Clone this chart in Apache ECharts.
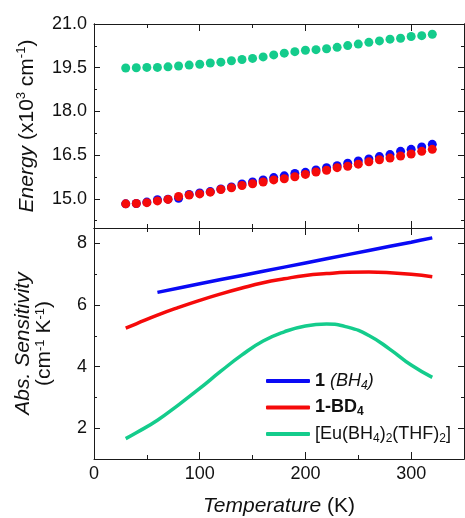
<!DOCTYPE html>
<html>
<head>
<meta charset="utf-8">
<script src="https://cdn.jsdelivr.net/npm/echarts@6/dist/echarts.min.js"></script>
<style>
  html, body { margin: 0; padding: 0; background: #fff; }
  #chart { width: 465px; height: 518px; }
</style>
</head>
<body>
<div id="chart"></div>
<script>
// top panel: emission energy vs temperature (x10^3 cm^-1)
const energyTemps = [30, 40, 50, 60, 70, 80, 90, 100, 110, 120, 130, 140, 150, 160, 170,
  180, 190, 200, 210, 220, 230, 240, 250, 260, 270, 280, 290, 300, 310, 320]
const energyBH4 = [14.83, 14.84, 14.89, 14.97, 14.99, 15.02, 15.15, 15.20, 15.25, 15.34,
  15.41, 15.51, 15.58, 15.65, 15.73, 15.79, 15.87, 15.91, 15.99, 16.07,
  16.14, 16.22, 16.30, 16.37, 16.45, 16.52, 16.63, 16.70, 16.78, 16.87]
const energyBD4 = [14.83, 14.84, 14.87, 14.93, 14.98, 15.08, 15.13, 15.17, 15.23, 15.32,
  15.38, 15.46, 15.52, 15.58, 15.65, 15.69, 15.76, 15.84, 15.92, 15.98,
  16.07, 16.12, 16.19, 16.27, 16.34, 16.40, 16.47, 16.54, 16.63, 16.70]
const energyEu = [19.49, 19.50, 19.51, 19.51, 19.53, 19.56, 19.59, 19.62, 19.66, 19.69,
  19.74, 19.78, 19.82, 19.87, 19.94, 20.00, 20.05, 20.10, 20.12, 20.15,
  20.20, 20.26, 20.31, 20.37, 20.42, 20.48, 20.51, 20.57, 20.60, 20.65]

// bottom panel: absolute sensitivity (cm^-1 K^-1)
const sensTempsBH4 = [60, 100, 140, 180, 220, 260, 300, 320]
const sensBH4 = [6.41, 6.69, 6.96, 7.23, 7.50, 7.77, 8.04, 8.18]
const sensTemps = [30, 40, 60, 80, 100, 120, 140, 160, 180, 200, 220, 240, 260, 280, 300, 320]
const sensBD4 = [5.25, 5.39, 5.67, 5.92, 6.15, 6.36, 6.55, 6.72, 6.85, 6.96, 7.02, 7.06, 7.07, 7.05, 7.00, 6.92]
const sensEu = [1.66, 1.85, 2.26, 2.76, 3.29, 3.85, 4.38, 4.83, 5.13, 5.32, 5.38, 5.28, 5.01, 4.56, 4.05, 3.65]

// tick values
const energyMajor = [15, 16.5, 18, 19.5, 21]
const energyMinor = [14.25, 15.75, 17.25, 18.75, 20.25]
const sensMajor = [2, 4, 6, 8]
const sensMinor = [3, 5, 7]

const seriesNames = ['1 (BH4)', '1-BD4', '[Eu(BH4)2(THF)2]']
const legendRich = {
  '1 (BH4)': '{b|1} {i|(BH}{isub|4}{i|)}',
  '1-BD4': '{b|1-BD}{bsub|4}',
  '[Eu(BH4)2(THF)2]': '{n|[Eu(BH}{sub|4}{n|)}{sub|2}{n|(THF)}{sub|2}{n|]}',
}

const BLUE = '#0a0af5'
const RED = '#f50a0a'
const GREEN = '#14cc8c'
const FONT = 'Liberation Sans'
const AXIS_COLOR = '#1a1a1a'
const TEXT = '#111'

const pairs = (xs, ys) => xs.map((x, i) => [x, ys[i]])

const xAxisBase = (gridIndex, position, showLabels) => ({
  type: 'value',
  gridIndex,
  position,
  min: 0,
  max: 350,
  interval: 100,
  axisLine: { show: true, lineStyle: { color: AXIS_COLOR, width: 1 } },
  axisTick: { show: true, inside: true, length: 7, lineStyle: { color: AXIS_COLOR } },
  minorTick: { show: true, splitNumber: 2, length: 4, lineStyle: { color: AXIS_COLOR } },
  axisLabel: {
    show: showLabels,
    showMaxLabel: false,
    formatter: (v) => (v > 300 ? '' : String(v)),
    margin: 6,
    color: TEXT,
    fontFamily: FONT,
    fontSize: 18,
  },
  splitLine: { show: false },
  minorSplitLine: { show: false },
})

const yAxisBase = (gridIndex, position, min, max, ticks, len, labels) => ({
  type: 'value',
  gridIndex,
  position,
  min,
  max,
  axisLine: { show: true, lineStyle: { color: AXIS_COLOR, width: 1 } },
  axisTick: { show: true, inside: true, length: len, customValues: ticks, lineStyle: { color: AXIS_COLOR } },
  axisLabel: labels
    ? { show: true, customValues: labels.values, formatter: labels.formatter, margin: 7, color: TEXT, fontFamily: FONT, fontSize: 18 }
    : { show: false },
  splitLine: { show: false },
})

const chart = echarts.init(document.getElementById('chart'))

chart.setOption({
  animation: false,
  backgroundColor: '#fff',
  textStyle: { fontFamily: FONT },
  grid: [
    { left: 94, right: 1, top: 24, height: 204 },
    { left: 94, right: 1, top: 228, height: 234 },
  ],
  xAxis: [
    xAxisBase(0, 'bottom', false),
    xAxisBase(0, 'top', false),
    {
      ...xAxisBase(1, 'bottom', true),
      name: '{i|Temperature} (K)',
      nameLocation: 'middle',
      nameGap: 37,
      nameTextStyle: {
        color: TEXT,
        fontFamily: FONT,
        fontSize: 21,
        rich: { i: { fontStyle: 'italic', fontFamily: FONT, fontSize: 21, color: TEXT } },
      },
    },
    xAxisBase(1, 'top', false),
  ],
  yAxis: [
    {
      ...yAxisBase(0, 'left', 14, 21, energyMajor, 6, { values: energyMajor, formatter: (v) => v.toFixed(1) }),
      name: '{i|Energy} (x10{sup|3} cm{sup|-1})',
      nameLocation: 'middle',
      nameGap: 55,
      nameTextStyle: {
        color: TEXT,
        fontFamily: FONT,
        fontSize: 21,
        lineHeight: 24,
        rich: {
          i: { fontStyle: 'italic', fontSize: 21, lineHeight: 24, color: TEXT },
          sup: { fontSize: 13, lineHeight: 14, verticalAlign: 'top', color: TEXT },
        },
      },
    },
    yAxisBase(0, 'left', 14, 21, energyMinor, 3, null),
    yAxisBase(0, 'right', 14, 21, energyMajor, 6, null),
    yAxisBase(0, 'right', 14, 21, energyMinor, 3, null),
    {
      ...yAxisBase(1, 'left', 1, 8.5, sensMajor, 6, { values: sensMajor, formatter: (v) => String(v) }),
      name: '{i|Abs. Sensitivity}\n{n|(cm}{sup|-1}{n| K}{sup|-1}{n|)}',
      nameLocation: 'middle',
      nameGap: 39,
      nameTextStyle: {
        color: TEXT,
        fontFamily: FONT,
        fontSize: 21,
        rich: {
          i: { fontStyle: 'italic', fontSize: 21, lineHeight: 21, color: TEXT },
          n: { fontSize: 21, lineHeight: 21, color: TEXT },
          sup: { fontSize: 13, lineHeight: 13, verticalAlign: 'top', color: TEXT },
        },
      },
    },
    yAxisBase(1, 'left', 1, 8.5, sensMinor, 3, null),
    yAxisBase(1, 'right', 1, 8.5, sensMajor, 6, null),
    yAxisBase(1, 'right', 1, 8.5, sensMinor, 3, null),
  ],
  legend: {
    data: seriesNames,
    orient: 'vertical',
    left: 266,
    top: 372,
    padding: 0,
    itemWidth: 44,
    itemHeight: 4,
    itemGap: 7,
    icon: 'roundRect',
    selectedMode: false,
    formatter: (name) => legendRich[name],
    textStyle: {
      color: TEXT,
      fontFamily: FONT,
      fontSize: 18,
      rich: {
        n: { fontSize: 18, lineHeight: 21, color: TEXT },
        b: { fontSize: 18, lineHeight: 21, fontWeight: 'bold', color: TEXT },
        i: { fontSize: 18, lineHeight: 21, fontStyle: 'italic', color: TEXT },
        sub: { fontSize: 12, lineHeight: 12, verticalAlign: 'bottom', color: TEXT },
        bsub: { fontSize: 12, lineHeight: 12, verticalAlign: 'bottom', fontWeight: 'bold', color: TEXT },
        isub: { fontSize: 12, lineHeight: 12, verticalAlign: 'bottom', fontStyle: 'italic', color: TEXT },
      },
    },
  },
  series: [
    {
      name: 'energy BH4',
      type: 'scatter',
      xAxisIndex: 0,
      yAxisIndex: 0,
      symbolSize: 9,
      itemStyle: { color: BLUE, opacity: 1 },
      data: pairs(energyTemps, energyBH4),
    },
    {
      name: 'energy BD4',
      type: 'scatter',
      xAxisIndex: 0,
      yAxisIndex: 0,
      symbolSize: 9,
      itemStyle: { color: RED, opacity: 1 },
      data: pairs(energyTemps, energyBD4),
    },
    {
      name: 'energy Eu',
      type: 'scatter',
      xAxisIndex: 0,
      yAxisIndex: 0,
      symbolSize: 9,
      itemStyle: { color: GREEN, opacity: 1 },
      data: pairs(energyTemps, energyEu),
    },
    {
      name: seriesNames[0],
      type: 'line',
      xAxisIndex: 2,
      yAxisIndex: 4,
      smooth: 0.3,
      showSymbol: false,
      symbol: 'none',
      color: BLUE,
      lineStyle: { color: BLUE, width: 3.5 },
      data: pairs(sensTempsBH4, sensBH4),
    },
    {
      name: seriesNames[1],
      type: 'line',
      xAxisIndex: 2,
      yAxisIndex: 4,
      smooth: 0.5,
      showSymbol: false,
      symbol: 'none',
      color: RED,
      lineStyle: { color: RED, width: 3.5 },
      data: pairs(sensTemps, sensBD4),
    },
    {
      name: seriesNames[2],
      type: 'line',
      xAxisIndex: 2,
      yAxisIndex: 4,
      smooth: 0.5,
      showSymbol: false,
      symbol: 'none',
      color: GREEN,
      lineStyle: { color: GREEN, width: 3.5 },
      data: pairs(sensTemps, sensEu),
    },
  ],
})
</script>
</body>
</html>
